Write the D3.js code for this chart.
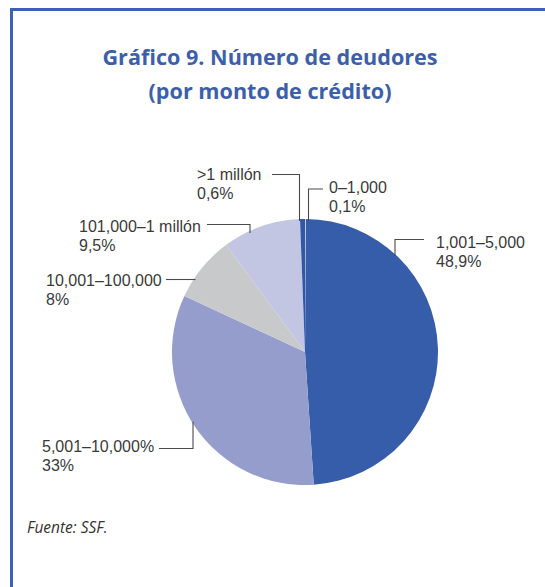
<!DOCTYPE html>
<html>
<head>
<meta charset="utf-8">
<script src="https://cdn.jsdelivr.net/npm/d3@7/dist/d3.min.js"></script>
<style>
  html, body { margin: 0; padding: 0; background: #fff; }
  svg { display: block; }
</style>
</head>
<body>
<svg id="chart" width="545" height="587"></svg>
<script>
// Debtors by credit amount (share of total, %)
const categories = ["0–1,000", "1,001–5,000", "5,001–10,000%", "10,001–100,000", "101,000–1 millón", ">1 millón"];
const shares = [0.1, 48.9, 33, 8, 9.5, 0.6];
const shareLabels = ["0,1%", "48,9%", "33%", "8%", "9,5%", "0,6%"];
const sliceColors = ["#e1e3ea", "#355da9", "#959dcc", "#c8c9cb", "#c3c6e3", "#2f59a8"];

const titleLines = ["Gráfico 9. Número de deudores", "(por monto de crédito)"];
const sourceNote = "Fuente: SSF.";

const svg = d3.select("#chart");
const W = 545, H = 587;

// Frame: blue rule along the top and left edges
svg.append("path")
  .attr("d", `M${W + 5},9.5 H11.5 V${H + 5}`)
  .attr("fill", "none")
  .attr("stroke", "#3b63b3")
  .attr("stroke-width", 3);

// Title
const title = svg.append("text")
  .attr("text-anchor", "middle")
  .attr("font-family", "'Open Sans', 'Noto Sans', sans-serif")
  .attr("font-weight", 700)
  .attr("font-size", 21.6)
  .attr("fill", "#3d5fab");
titleLines.forEach((t, i) => {
  title.append("tspan").attr("x", 270).attr("y", 65 + i * 34).text(t);
});

// Pie
const cx = 305, cy = 352, R = 133;
const pie = d3.pie().sort(null).value(d => d)(shares);
const arc = d3.arc().innerRadius(0).outerRadius(R);

const g = svg.append("g").attr("transform", `translate(${cx},${cy})`);
g.selectAll("path")
  .data(pie)
  .join("path")
  .attr("d", arc)
  .attr("fill", (d, i) => sliceColors[i]);

// Label layout: text anchor, elbow leader geometry (relative to the pie's outer edge)
// kind "v": horizontal run at y = hy from x = x0 to x = ex, then vertical to the rim at x = ex
// kind "h": horizontal run at y = hy from x = x0 to the rim
const layout = [
  { tx: 329, ty: 193, kind: "v", x0: 323, hy: 189, ex: 308.5, side: "top" },
  { tx: 436, ty: 248, kind: "v", x0: 424, hy: 239.5, ex: 395, side: "top" },
  { tx: 42,  ty: 452, kind: "v", x0: 159, hy: 448.5, ex: 193, side: "bottom" },
  { tx: 46,  ty: 286, kind: "h", x0: 166, hy: 279.5 },
  { tx: 79,  ty: 232, kind: "v", x0: 207, hy: 224.5, ex: 250, side: "top" },
  { tx: 197, ty: 180, kind: "v", x0: 272, hy: 174.5, ex: 299.5, side: "top" }
];

function rimY(x, side) {
  const dx = x - cx;
  const dy = Math.sqrt(Math.max(0, R * R - dx * dx));
  return side === "top" ? cy - dy : cy + dy;
}
function rimX(y) {
  const dy = y - cy;
  return cx - Math.sqrt(Math.max(0, R * R - dy * dy));
}

const leaders = svg.append("g")
  .attr("fill", "none")
  .attr("stroke", "#4a4a4a")
  .attr("stroke-width", 1.1);

layout.forEach(L => {
  let d;
  if (L.kind === "v") {
    const ry = rimY(L.ex, L.side) + (L.side === "top" ? 2 : -2);
    d = `M${L.x0},${L.hy} H${L.ex} V${ry}`;
  } else {
    d = `M${L.x0},${L.hy} H${rimX(L.hy) + 2}`;
  }
  leaders.append("path").attr("d", d);
});

const labels = svg.append("g")
  .attr("font-family", "'Liberation Sans', Arial, sans-serif")
  .attr("font-size", 16)
  .attr("fill", "#3a3a3a");

categories.forEach((c, i) => {
  const L = layout[i];
  const t = labels.append("text");
  t.append("tspan").attr("x", L.tx).attr("y", L.ty).text(c);
  t.append("tspan").attr("x", L.tx).attr("y", L.ty + 19).text(shareLabels[i]);
});

// Source note
svg.append("text")
  .attr("x", 27)
  .attr("y", 533)
  .attr("font-family", "'Open Sans', 'Noto Sans', sans-serif")
  .attr("font-style", "italic")
  .attr("font-size", 15.5)
  .attr("fill", "#333")
  .text(sourceNote);
</script>
</body>
</html>
